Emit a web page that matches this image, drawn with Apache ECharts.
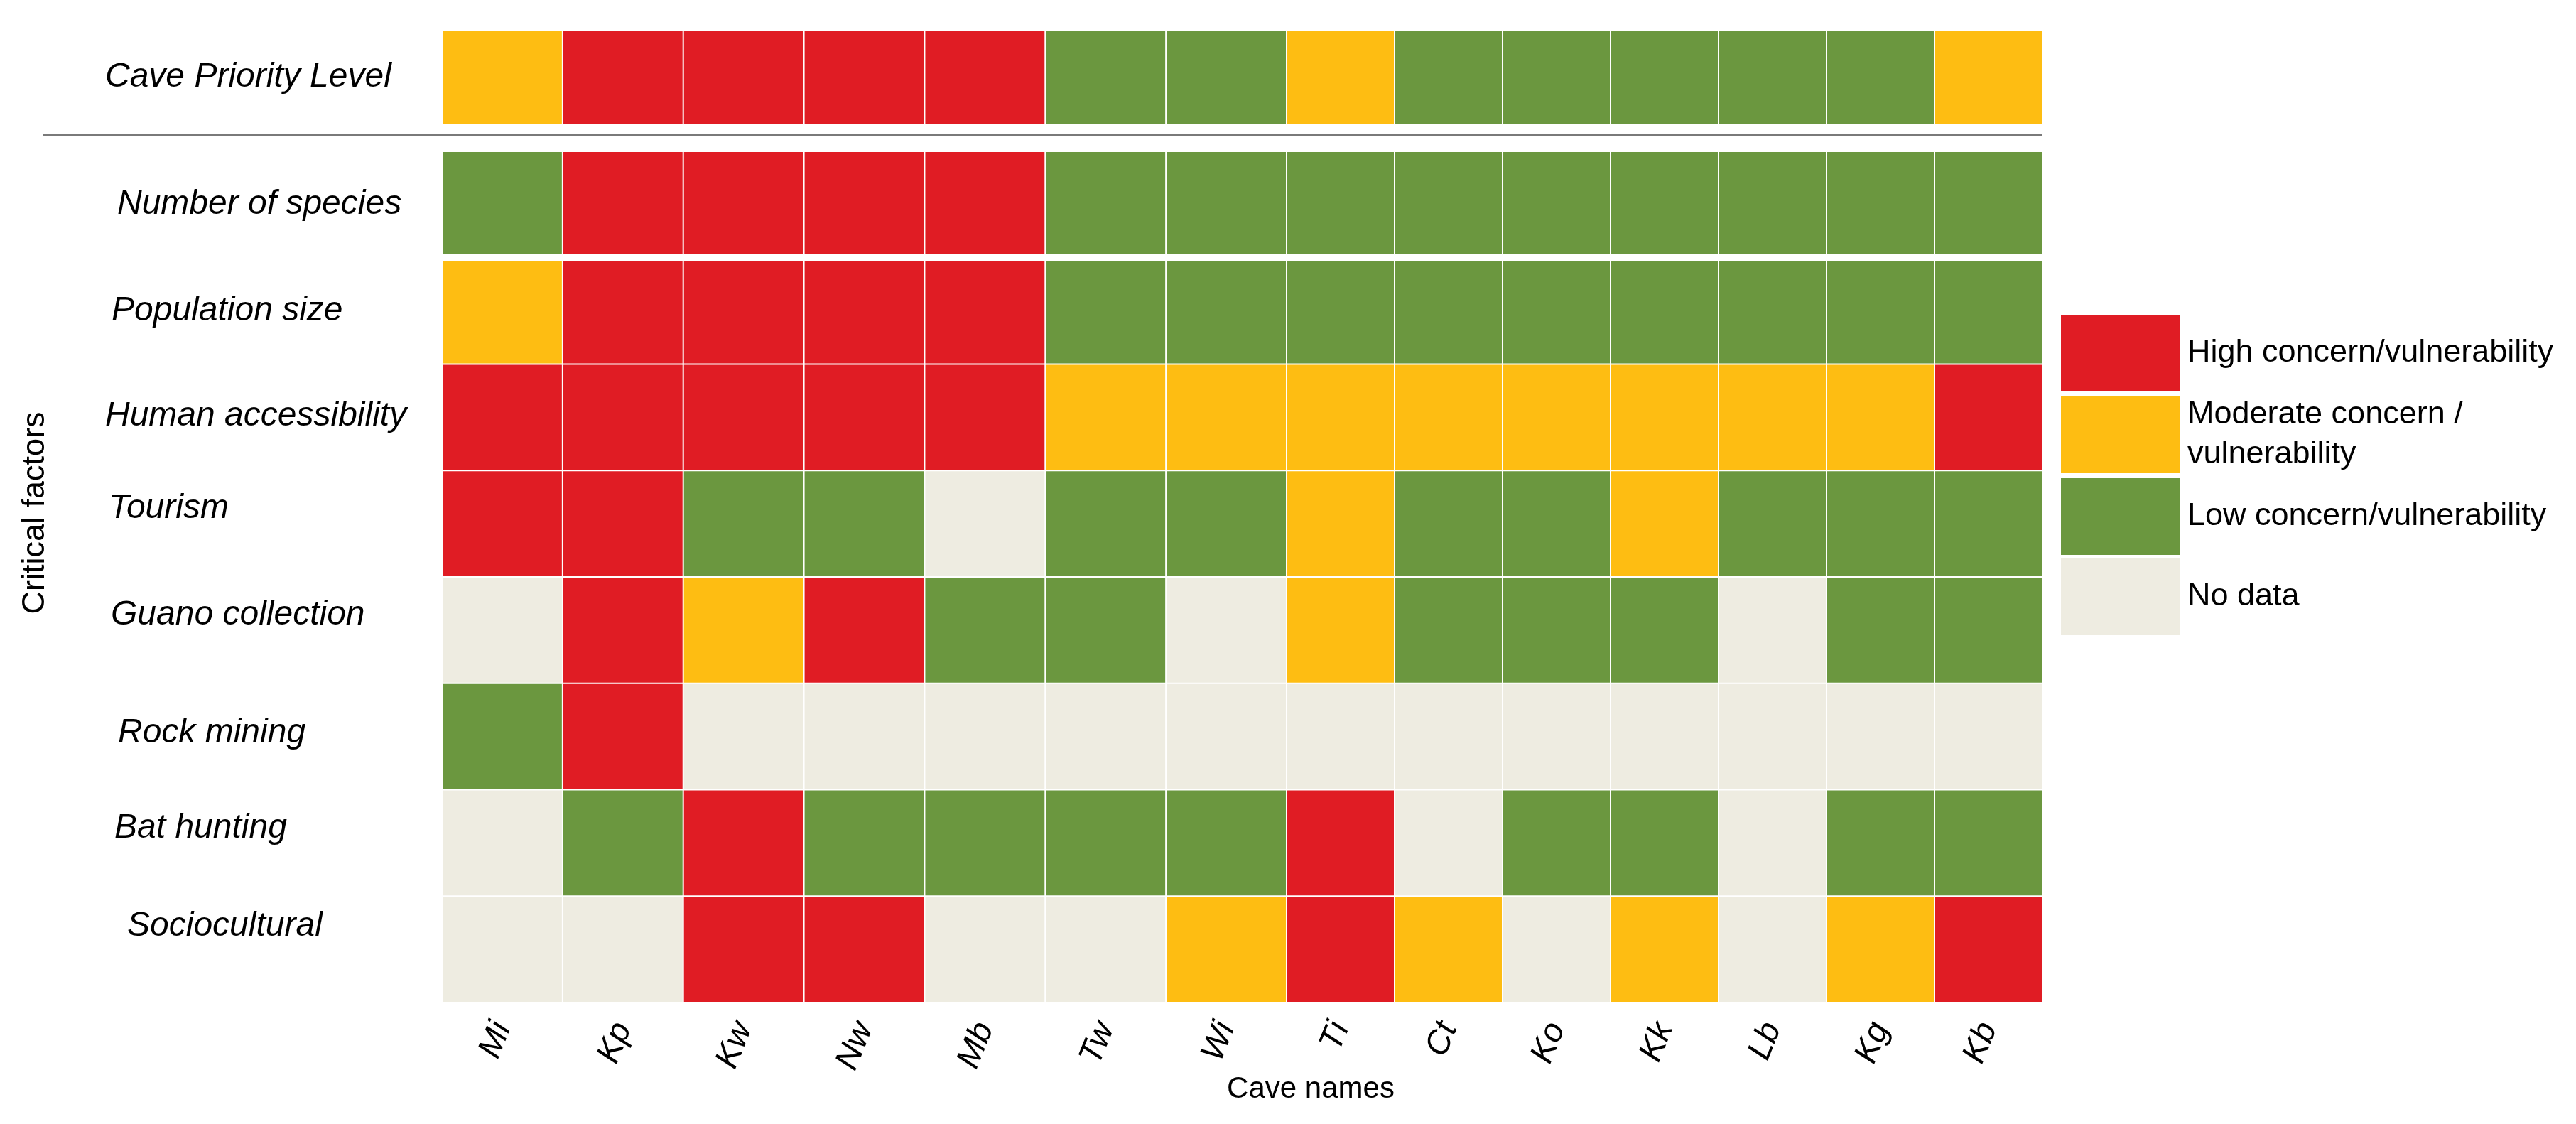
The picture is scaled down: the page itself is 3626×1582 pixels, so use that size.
<!DOCTYPE html>
<html><head><meta charset="utf-8">
<script src="https://cdn.jsdelivr.net/npm/echarts@6/dist/echarts.min.js"></script>
<style>html,body{margin:0;padding:0;background:#fff}#c{width:3626px;height:1582px}</style>
</head><body><div id="c"></div>
<script>
// ---- data ----
const caves = ['Mi','Kp','Kw','Nw','Mb','Tw','Wi','Ti','Ct','Ko','Kk','Lb','Kg','Kb'];
const priorityLabel = ['Cave Priority Level'];
const factors = ['Number of species','Population size','Human accessibility','Tourism','Guano collection','Rock mining','Bat hunting','Sociocultural'];
// 3 = high, 2 = moderate, 1 = low, 0 = no data
const priorityLevel      = [2,3,3,3,3,1,1,2,1,1,1,1,1,2];
const numberOfSpecies    = [1,3,3,3,3,1,1,1,1,1,1,1,1,1];
const populationSize     = [2,3,3,3,3,1,1,1,1,1,1,1,1,1];
const humanAccessibility = [3,3,3,3,3,2,2,2,2,2,2,2,2,3];
const tourism            = [3,3,1,1,0,1,1,2,1,1,2,1,1,1];
const guanoCollection    = [0,3,2,3,1,1,0,2,1,1,1,0,1,1];
const rockMining         = [1,3,0,0,0,0,0,0,0,0,0,0,0,0];
const batHunting         = [0,1,3,1,1,1,1,3,0,1,1,0,1,1];
const sociocultural      = [0,0,3,3,0,0,2,3,2,0,2,0,2,3];
const levelNames = ['No data','Low concern/vulnerability','Moderate concern /\nvulnerability','High concern/vulnerability'];

// ---- styles ----
const levelColors = ['#EEECE1','#6B973F','#FEBD12','#E01C24'];
const FONT = '"Liberation Sans", Arial, sans-serif';
const SPLIT = 7;
const labelLift = [0, 0, 2, 21, 21, 5, 21, 32];   // upward offset of each factor label (px)
const labelIndent = [17, 9, 0, 5, 8, 18, 13, 31]; // rightward offset of each factor label (px)

const priorityRows = [priorityLevel];
const factorRows = [numberOfSpecies, populationSize, humanAccessibility, tourism, guanoCollection, rockMining, batHunting, sociocultural];

function cells(rows, from, to) {
  const out = [];
  rows.forEach((row, y) => {
    for (let x = from; x < to; x++) out.push([x - from, y, row[x]]);
  });
  return out;
}

function makeRender(isMain) {
  return function (params, api) {
    const xi = api.value(0), yi = api.value(1);
    const c = api.coord([xi, yi]);
    const s = api.size([1, 1]);
    let x0 = c[0] - s[0] / 2 + 1, w = s[0] - 2;
    let y0 = c[1] - s[1] / 2 + 1, h = s[1] - 2;
    if (isMain && yi === 0) { h -= 4; }
    if (isMain && yi === 1) { y0 += 4; h -= 4; }
    return { type: 'rect', shape: { x: x0, y: y0, width: w, height: h }, style: { fill: api.visual('color') } };
  };
}

const grids = [
  { left: 622, top: 42, width: 1189, height: 133 },
  { left: 1811, top: 42, width: 1064, height: 133 },
  { left: 622, top: 213, width: 1189, height: 1198 },
  { left: 1811, top: 213, width: 1064, height: 1198 }
];

const labelStyle = { fontSize: 48, fontStyle: 'italic', fontFamily: FONT, color: '#000' };
const rich = {};
labelLift.forEach((l, k) => { rich['r' + k] = Object.assign({ padding: [0, 0, 2 * l, labelIndent[k]] }, labelStyle); });

const xAxes = grids.map((g, i) => ({
  type: 'category', gridIndex: i,
  data: i % 2 === 0 ? caves.slice(0, SPLIT) : caves.slice(SPLIT),
  axisLine: { show: false }, axisTick: { show: false }, splitLine: { show: false },
  axisLabel: {
    show: i >= 2, rotate: 68, margin: 30, interval: 0,
    fontSize: 47, fontStyle: 'italic', fontFamily: FONT, color: '#000'
  }
}));

const yAxes = grids.map((g, i) => ({
  type: 'category', gridIndex: i, inverse: true,
  data: i < 2 ? priorityLabel : factors,
  axisLine: { show: false }, axisTick: { show: false }, splitLine: { show: false },
  axisLabel: Object.assign({
    show: i % 2 === 0, align: 'left', margin: 474, interval: 0
  }, labelStyle, i < 2 ? {} : {
    formatter: (v, k) => '{r' + k + '|' + v + '}',
    rich: rich
  })
}));

const series = [
  { data: cells(priorityRows, 0, SPLIT), main: false },
  { data: cells(priorityRows, SPLIT, caves.length), main: false },
  { data: cells(factorRows, 0, SPLIT), main: true },
  { data: cells(factorRows, SPLIT, caves.length), main: true }
].map((d, i) => ({
  type: 'custom', xAxisIndex: i, yAxisIndex: i,
  encode: { x: 0, y: 1 },
  renderItem: makeRender(d.main),
  data: d.data,
  silent: true
}));

const chart = echarts.init(document.getElementById('c'), null, { renderer: 'canvas' });
chart.setOption({
  backgroundColor: '#fff',
  animation: false,
  grid: grids,
  xAxis: xAxes,
  yAxis: yAxes,
  series: series,
  visualMap: {
    type: 'piecewise', dimension: 2, seriesIndex: [0, 1, 2, 3],
    orient: 'vertical', align: 'left', left: 2901, top: 443, padding: 0,
    itemWidth: 168, itemHeight: 108, itemGap: 5, textGap: 10,
    itemSymbol: 'rect', selectedMode: false,
    pieces: levelNames.map((n, v) => ({ value: v, label: n, color: levelColors[v] })),
    textStyle: { fontSize: 45, fontFamily: FONT, color: '#000', lineHeight: 56 }
  },
  graphic: [
    { type: 'line', shape: { x1: 60, y1: 190, x2: 2875, y2: 190 }, style: { stroke: '#7a7a7a', lineWidth: 4 } },
    { type: 'text', x: 50, y: 722, rotation: Math.PI / 2,
      style: { text: 'Critical factors', fontSize: 45, fontFamily: FONT, fill: '#000', align: 'center', verticalAlign: 'middle', textAlign: 'center', textVerticalAlign: 'middle' } },
    { type: 'text', x: 1845, y: 1533,
      style: { text: 'Cave names', fontSize: 42, fontFamily: FONT, fill: '#000', align: 'center', verticalAlign: 'middle', textAlign: 'center', textVerticalAlign: 'middle' } }
  ]
});
</script></body></html>
